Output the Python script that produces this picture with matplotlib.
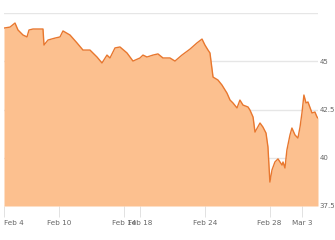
import matplotlib
matplotlib.use("Agg")
import matplotlib.pyplot as plt

# Trading-day position (x) and price (y)
days = [0.605, 0.975, 1.284, 1.469, 1.778, 2.025, 2.148, 2.395, 3.012, 3.074,
        3.321, 3.753, 4.062, 4.247, 4.679, 5.111, 5.481, 5.914, 6.346, 6.654,
        6.963, 7.148, 7.457, 7.765, 8.198, 8.568, 9.0, 9.185, 9.432, 9.802,
        10.11, 10.42, 10.85, 11.16, 11.59, 12.09, 12.52, 12.83, 13.01, 13.20,
        13.32, 13.51, 13.81, 14.06, 14.37, 14.56, 14.74, 14.99, 15.17, 15.36,
        15.67, 15.79, 15.98, 16.10, 16.41, 16.59, 16.78, 16.90, 17.02, 17.15,
        17.33, 17.52, 17.77, 17.83, 17.95, 18.07, 18.26, 18.38, 18.57, 18.75,
        18.88, 19.00, 19.12, 19.25, 19.37, 19.62, 19.80, 19.93, 19.99]
prices = [46.72, 46.77, 46.98, 46.62, 46.36, 46.26, 46.62, 46.67, 46.67, 45.84,
          46.10, 46.20, 46.26, 46.57, 46.36, 45.95, 45.58, 45.58, 45.22, 44.91,
          45.32, 45.17, 45.69, 45.74, 45.43, 45.01, 45.17, 45.32, 45.22, 45.32,
          45.38, 45.17, 45.17, 45.01, 45.32, 45.63, 45.95, 46.15, 45.84, 45.58,
          45.43, 44.18, 44.03, 43.77, 43.35, 42.99, 42.84, 42.58, 42.99, 42.73,
          42.63, 42.47, 42.11, 41.33, 41.80, 41.59, 41.28, 40.56, 38.74, 39.37,
          39.78, 39.94, 39.62, 39.78, 39.47, 40.40, 41.18, 41.54, 41.18, 41.02,
          41.59, 42.32, 43.25, 42.84, 42.89, 42.32, 42.37, 42.11, 42.06]

tick_days = [0.605, 4, 8, 9, 13, 17, 19]
tick_labels = ["Feb 4", "Feb 10", "Feb 14", "Feb 18", "Feb 24", "Feb 28", "Mar 3"]
y_ticks = [37.5, 40, 42.5, 45, 47.5]
y_labels = ["37.5", "40", "42.5", "45", ""]

fig = plt.figure(figsize=(3.35, 2.4), dpi=100)
ax = fig.add_axes([4/335, 1 - 206/240, 314/335, 193/240])

ax.fill_between(days, prices, 37.5, color="#fcc08f", zorder=2, linewidth=0)
ax.plot(days, prices, color="#e8772e", linewidth=1.0, zorder=3)

ax.set_xlim(days[0], days[-1])
ax.set_ylim(37.5, 47.5)
ax.set_yticks(y_ticks)
ax.set_yticklabels(y_labels)
ax.yaxis.tick_right()
ax.grid(axis="y", color="#e6e6e6", linewidth=1, zorder=1)
ax.tick_params(axis="y", length=0, pad=1, labelsize=5, labelcolor="#666666")

ax.set_xticks(tick_days)
ax.set_xticklabels(tick_labels)
ax.tick_params(axis="x", length=8, width=0.6, color="#dddddd", pad=2,
               labelsize=5.2, labelcolor="#666666")
ax.get_xticklabels()[0].set_horizontalalignment("left")

for lbl in ax.get_xticklabels() + ax.get_yticklabels():
    lbl.set_family(["Liberation Sans Narrow", "DejaVu Sans"])

for s in ax.spines.values():
    s.set_visible(False)

fig.savefig("out.png", dpi=100)
